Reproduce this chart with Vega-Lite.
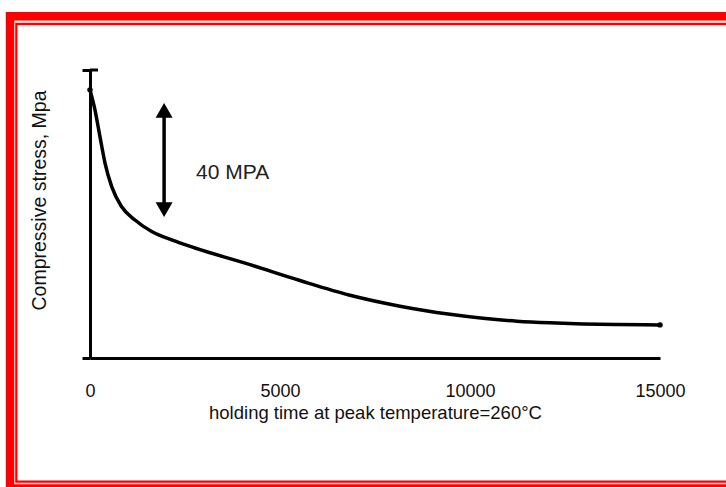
{
  "$schema": "https://vega.github.io/schema/vega-lite/v6.json",
  "width": 570,
  "height": 288,
  "autosize": {"type": "none"},
  "padding": {"left": 90, "top": 70, "right": 66, "bottom": 129},
  "background": "white",
  "config": {"view": {"stroke": null}, "font": "Liberation Sans"},
  "datasets": {
    "curve": [
      {"time": 0, "stress": 93.1},
      {"time": 132, "stress": 86.1},
      {"time": 263, "stress": 76.8},
      {"time": 395, "stress": 67.7},
      {"time": 571, "stress": 59.5},
      {"time": 834, "stress": 52.5},
      {"time": 1184, "stress": 47.9},
      {"time": 1624, "stress": 43.9},
      {"time": 2150, "stress": 41.0},
      {"time": 2763, "stress": 38.2},
      {"time": 4211, "stress": 32.4},
      {"time": 5526, "stress": 26.9},
      {"time": 6842, "stress": 21.8},
      {"time": 8158, "stress": 18.0},
      {"time": 9474, "stress": 15.2},
      {"time": 10342, "stress": 13.8},
      {"time": 11237, "stress": 12.8},
      {"time": 12105, "stress": 12.2},
      {"time": 12974, "stress": 11.8},
      {"time": 13868, "stress": 11.6},
      {"time": 15000, "stress": 11.5}
    ],
    "ends": [
      {"time": 0, "stress": 93.1},
      {"time": 15000, "stress": 11.5}
    ]
  },
  "layer": [
    {
      "data": {"name": "curve"},
      "mark": {"type": "line", "color": "black", "strokeWidth": 3.5, "interpolate": "monotone"},
      "encoding": {
        "x": {
          "field": "time", "type": "quantitative",
          "scale": {"domain": [0, 15000], "nice": false, "zero": false},
          "axis": {
            "title": "holding time at peak temperature=260°C",
            "values": [0, 5000, 10000, 15000],
            "format": "d",
            "ticks": false,
            "grid": false,
            "domainColor": "black",
            "domainWidth": 3,
            "labelFontSize": 18,
            "labelPadding": 24,
            "labelColor": "#111",
            "labelFlush": false,
            "titleFontSize": 18.5,
            "titleFontWeight": "normal",
            "titlePadding": 3,
            "titleColor": "#111"
          }
        },
        "y": {
          "field": "stress", "type": "quantitative",
          "scale": {"domain": [0, 100], "nice": false, "zero": false},
          "axis": {
            "title": "Compressive stress, Mpa",
            "values": [0, 100],
            "labels": false,
            "grid": false,
            "tickSize": 8,
            "tickWidth": 3,
            "tickColor": "black",
            "domainColor": "black",
            "domainWidth": 3,
            "titleFontSize": 19.5,
            "titleFontWeight": "normal",
            "titlePadding": 31,
            "titleY": 130,
            "titleColor": "#111"
          }
        }
      }
    },
    {
      "data": {"values": [{}]},
      "mark": {"type": "rect", "filled": false, "stroke": "#ff0000", "strokeWidth": 8.5},
      "encoding": {
        "x": {"datum": -2105, "type": "quantitative"},
        "x2": {"datum": 17105},
        "y": {"datum": 118.65, "type": "quantitative"},
        "y2": {"datum": -45.3}
      }
    },
    {
      "data": {"values": [{}]},
      "mark": {"type": "rect", "filled": false, "stroke": "#ff0000", "strokeWidth": 2.2},
      "encoding": {
        "x": {"datum": -1939, "type": "quantitative"},
        "x2": {"datum": 17105},
        "y": {"datum": 116.0, "type": "quantitative"},
        "y2": {"datum": -42.95}
      }
    },
    {
      "data": {"values": [{}]},
      "mark": {"type": "rule", "color": "black", "strokeWidth": 3},
      "encoding": {
        "x": {"datum": 0, "type": "quantitative"},
        "x2": {"datum": 210},
        "y": {"datum": 100, "type": "quantitative"}
      }
    },
    {
      "data": {"name": "ends"},
      "mark": {"type": "point", "filled": true, "color": "black", "size": 30, "opacity": 1},
      "encoding": {
        "x": {"field": "time", "type": "quantitative"},
        "y": {"field": "stress", "type": "quantitative"}
      }
    },
    {
      "data": {"values": [{}]},
      "mark": {"type": "rule", "color": "black", "strokeWidth": 3.5},
      "encoding": {
        "x": {"datum": 1950, "type": "quantitative"},
        "y": {"datum": 51.5, "type": "quantitative"},
        "y2": {"datum": 86}
      }
    },
    {
      "data": {"values": [{}]},
      "mark": {"type": "point", "shape": "triangle-up", "filled": true, "color": "black", "size": 289, "opacity": 1},
      "encoding": {
        "x": {"datum": 1950, "type": "quantitative"},
        "y": {"datum": 86, "type": "quantitative"}
      }
    },
    {
      "data": {"values": [{}]},
      "mark": {"type": "point", "shape": "triangle-down", "filled": true, "color": "black", "size": 289, "opacity": 1},
      "encoding": {
        "x": {"datum": 1950, "type": "quantitative"},
        "y": {"datum": 51.5, "type": "quantitative"}
      }
    },
    {
      "data": {"values": [{"label": "40 MPA"}]},
      "mark": {"type": "text", "align": "left", "baseline": "middle", "fontSize": 21, "color": "#222"},
      "encoding": {
        "x": {"datum": 2790, "type": "quantitative"},
        "y": {"datum": 64.4, "type": "quantitative"},
        "text": {"field": "label"}
      }
    }
  ]
}
